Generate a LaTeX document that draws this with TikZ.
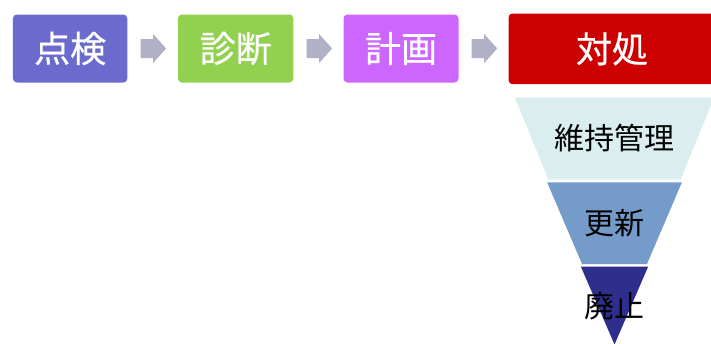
\documentclass[tikz,border=0pt]{standalone}
\usepackage{fontspec}
\newfontfamily\jp{Noto Sans CJK JP}
\newfontfamily\jpm[FakeBold=0.6]{Noto Sans CJK JP}
\usetikzlibrary{calc}
\definecolor{cA}{HTML}{6B6BCE}
\definecolor{cB}{HTML}{92D050}
\definecolor{cC}{HTML}{CC66FF}
\definecolor{cD}{HTML}{CC0000}
\definecolor{cArr}{HTML}{B0B0C6}
\definecolor{tA}{HTML}{DAEEF0}
\definecolor{tB}{HTML}{759BCB}
\definecolor{tC}{HTML}{2E2E8C}
\tikzset{
  stepbox/.style={rounded corners=4pt, inner sep=0pt, text=white,
    font=\jpm\fontsize{36}{36}\selectfont, anchor=north west},
  tierlabel/.style={inner sep=0pt, text=black, font=\jp\fontsize{30}{30}\selectfont},
  blockarrow/.style={fill=cArr, draw=none}
}
\newcommand{\blkarrow}[1]{%
  \fill[blockarrow] ($(#1)+(13,-9.5)$) -- ($(#1)+(25.5,-9.5)$) -- ($(#1)+(25.5,-14.5)$)
    -- ($(#1)+(38.5,0)$) -- ($(#1)+(25.5,14.5)$) -- ($(#1)+(25.5,9.5)$)
    -- ($(#1)+(13,9.5)$) -- cycle;}
\begin{document}
\begin{tikzpicture}[x=1pt,y=-1pt]
\useasboundingbox (0,0) rectangle (711,343);
\clip (0,0) rectangle (711,343);
\node[stepbox, fill=cA, minimum width=114.5pt, minimum height=68pt] (b1) at (12.7,14.3) {点検};
\node[stepbox, fill=cB, minimum width=115.5pt, minimum height=68pt] (b2) at (177.7,14.3) {診断};
\node[stepbox, fill=cC, minimum width=115pt, minimum height=68pt] (b3) at (343.3,14.3) {計画};
\node[stepbox, fill=cD, minimum width=207pt, minimum height=70.7pt] (b4) at (508.3,13.3) {対処};
\blkarrow{b1.east}
\blkarrow{b2.east}
\blkarrow{b3.east}
% funnel: center 614.5, apex y 344.5, slope 0.403
\fill[tA] (514.8,97.3) -- (714.2,97.3) -- (680.7,179.3) -- (548.3,179.3) -- cycle;
\fill[tB] (547.1,182.3) -- (681.9,182.3) -- (647.0,264.0) -- (582.0,264.0) -- cycle;
\fill[tC] (580.9,266.7) -- (648.1,266.7) -- (614.5,344.5) -- cycle;
\node[tierlabel] (t1) at (614.5,138) {維持管理};
\node[tierlabel] (t2) at (614.5,223) {更新};
\node[tierlabel] (t3) at (614.5,306.5) {廃止};
\end{tikzpicture}
\end{document}
